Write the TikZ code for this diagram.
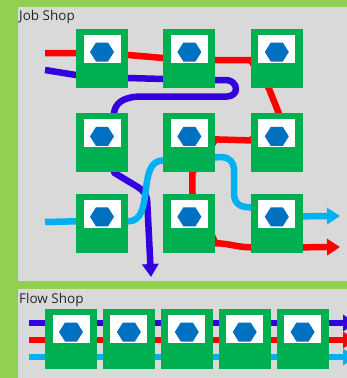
\documentclass[tikz,border=0pt]{standalone}
\usepackage{fontspec}
\setmainfont{Open Sans}
\usepackage{tikz}
\usetikzlibrary{positioning, calc, arrows.meta}
\definecolor{leafgreen}{HTML}{92D050}
\definecolor{panelgray}{HTML}{D9D9D9}
\definecolor{machgreen}{HTML}{00B050}
\definecolor{hexblue}{HTML}{0070C0}
\definecolor{routered}{HTML}{FF0000}
\definecolor{routeblue}{HTML}{3300E0}
\definecolor{routecyan}{HTML}{00B0F0}
\pgfdeclarelayer{panel}
\pgfdeclarelayer{route}
\pgfsetlayers{panel,route,main}

\begin{document}
\begin{tikzpicture}[x=1pt, y=-1pt, >={Triangle[length=13pt,width=16pt]},
    machine/.style={rectangle, fill=machgreen, minimum width=52pt, minimum height=59pt, inner sep=0pt,
      path picture={
        \fill[white] ($(path picture bounding box.north)+(-18.5pt,-6pt)$) rectangle ++(37pt,-28pt);
        \fill[hexblue] ($(path picture bounding box.north)+(0pt,-23pt)$)
          +(-12pt,0pt) -- +(-6pt,9.5pt) -- +(6pt,9.5pt) -- +(12pt,0pt) -- +(6pt,-9.5pt) -- +(-6pt,-9.5pt) -- cycle;
      }},
    route/.style={line width=6.5pt, line join=round},
    shoptitle/.style={font=\fontsize{13.5}{15}\selectfont, text=black!85, anchor=north west, inner sep=0pt}]

    \useasboundingbox (0,0) rectangle (347,378);

    % Panels
    \begin{pgfonlayer}{panel}
      \fill[leafgreen] (0,0) rectangle (347,378);
      \fill[panelgray] (18,7) rectangle (347,281);
      \fill[panelgray] (18,289) rectangle (347,378);
    \end{pgfonlayer}

    % Titles
    \node[shoptitle] (jobtitle) at (19,10) {Job Shop};
    \node[shoptitle] (flowtitle) at (19,293) {Flow Shop};

    % Job shop machines
    \node[machine] (j11) at (102,58.5) {};
    \node[machine, right=35pt of j11] (j12) {};
    \node[machine, right=35pt of j12] (j13) {};
    \node[machine, below=25pt of j11] (j21) {};
    \node[machine, right=35pt of j21] (j22) {};
    \node[machine, right=35pt of j22] (j23) {};
    \node[machine, below=21pt of j21] (j31) {};
    \node[machine, right=35pt of j31] (j32) {};
    \node[machine, right=35pt of j32] (j33) {};

    % Flow shop machines
    \node[machine, minimum height=60pt] (f1) at (71,339) {};
    \node[machine, minimum height=60pt, right=5.5pt of f1] (f2) {};
    \node[machine, minimum height=60pt, right=5.5pt of f2] (f3) {};
    \node[machine, minimum height=60pt, right=5.5pt of f3] (f4) {};
    \node[machine, minimum height=60pt, right=5.5pt of f4] (f5) {};

    % Route ends
    \coordinate (rin) at (45,53);
    \coordinate (rout) at (340,247);
    \coordinate (bin) at (45,70);
    \coordinate (bout) at (151,277);
    \coordinate (cin) at (45,222);
    \coordinate (cout) at (340,216);
    \coordinate (fbin) at (29,323);
    \coordinate (fbout) at (356,323);
    \coordinate (frin) at (29,340);
    \coordinate (frout) at (356,340);
    \coordinate (fcin) at (29,357);
    \coordinate (fcout) at (356,357);

    \begin{pgfonlayer}{route}
      % Job shop routes
      \draw[route, routered, ->] (rin) -- ([yshift=5.5pt]j11.west) -- ([yshift=3.5pt]j11.east)
        -- ([yshift=0.5pt]j12.west) -- ([yshift=-1.5pt]j12.east) -- ([yshift=-1.5pt]j13.west)
        -- ([xshift=-8pt]j13.south) -- ([xshift=2pt]j23.north) -- ([yshift=2.5pt]j23.west)
        -- ([yshift=3.5pt]j22.east) -- ([xshift=3pt]j22.south) -- ([xshift=3pt]j32.north)
        -- ([yshift=-20pt]j32.east) to[out=0,in=180] ([yshift=-24pt]j33.west)
        -- ([yshift=-24pt]j33.east) -- (rout);
      \draw[route, routeblue, ->] (bin) -- ([yshift=-16.5pt]j11.west) -- ([yshift=-19.5pt]j11.east)
        -- ([yshift=-20.5pt]j12.west) -- ([yshift=-21.5pt]j12.east) -- (226,80)
        to[out=0,in=90] (236,89) to[out=-90,in=0] (227,96.5) -- (142,96.5)
        .. controls (122,96.5) and (115,104) .. ([xshift=12pt]j21.north)
        -- ([xshift=12pt]j21.south) -- (137,186.5)
        .. controls (146,192) and (147.5,197) .. (147.5,207) -- (bout);
      \draw[route, routecyan, ->] (cin) -- ([yshift=2pt]j31.west) -- ([yshift=2pt]j31.east)
        to[out=0,in=180] ([yshift=-17.5pt]j22.west) -- ([yshift=-14.5pt]j22.east)
        -- (222,157) to[out=0,in=90] (234,169) -- (234,195) to[out=-90,in=180] (246,207)
        -- ([yshift=16pt]j33.west) -- ([yshift=7pt]j33.east) -- (cout);

      % Flow shop routes
      \draw[route, routeblue, ->] (fbin) -- (fbout);
      \draw[route, routered, ->] (frin) -- (frout);
      \draw[route, routecyan, ->] (fcin) -- (fcout);
    \end{pgfonlayer}
\end{tikzpicture}
\end{document}
